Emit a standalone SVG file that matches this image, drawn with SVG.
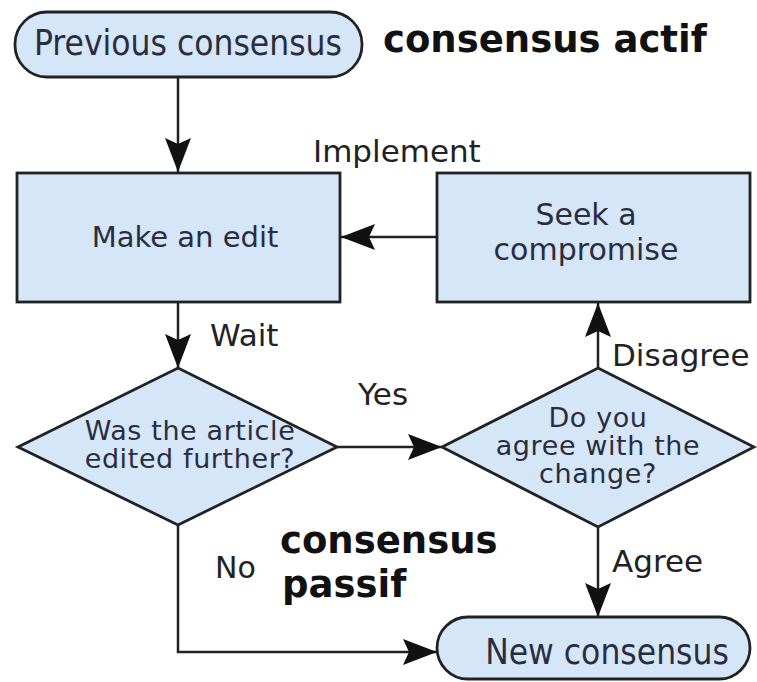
<svg xmlns="http://www.w3.org/2000/svg" width="757" height="682" viewBox="0 0 757 682">
<style>
.node{fill:#d5e6f9;stroke:#222;stroke-width:2.8}
.nt{font-family:"DejaVu Sans",sans-serif;font-size:29px;fill:#2b2d3e;text-anchor:middle}
.cd{font-family:"DejaVu Sans Condensed","DejaVu Sans",sans-serif;font-stretch:condensed}
.lb{font-family:"DejaVu Sans",sans-serif;font-size:31px;fill:#222}
.big{font-family:"DejaVu Sans",sans-serif;font-size:37px;font-weight:bold;fill:#111}
.cn{fill:none;stroke:#222;stroke-width:2.5}
</style>
<defs>
<marker id="ah" markerUnits="userSpaceOnUse" markerWidth="34" markerHeight="26" refX="34" refY="13" orient="auto">
<path d="M0,0 L34,13 L0,26 L6,13 z" fill="#111"/>
</marker>
</defs>
<rect width="757" height="682" fill="#fff"/>
<g id="connectors">
<line class="cn" x1="178" y1="77" x2="178" y2="172" marker-end="url(#ah)"/>
<line class="cn" x1="178" y1="302" x2="178" y2="368" marker-end="url(#ah)"/>
<line class="cn" x1="437" y1="237" x2="341" y2="237" marker-end="url(#ah)"/>
<line class="cn" x1="337" y1="447" x2="442" y2="447" marker-end="url(#ah)"/>
<line class="cn" x1="598" y1="368" x2="598" y2="303" marker-end="url(#ah)"/>
<line class="cn" x1="598" y1="527" x2="598" y2="617" marker-end="url(#ah)"/>
<polyline class="cn" points="178,525 178,652 437,652" marker-end="url(#ah)"/>
<text class="lb" x="313" y="162">Implement</text>
<text class="lb" x="210" y="346">Wait</text>
<text class="lb" x="358" y="405">Yes</text>
<text class="lb" x="612" y="366">Disagree</text>
<text class="lb" x="612" y="572">Agree</text>
<text class="lb" x="215" y="578" style="font-size:30px">No</text>
</g>
<g id="previous">
<rect class="node" x="15" y="12" width="347" height="65" rx="32"/>
<text class="nt cd" x="188" y="55" style="font-size:35px">Previous consensus</text>
</g>
<g id="edit">
<rect class="node" x="17" y="173" width="323" height="129"/>
<text class="nt" x="185" y="247">Make an edit</text>
</g>
<g id="compromise">
<rect class="node" x="437" y="173" width="313" height="129"/>
<text class="nt" x="586" y="225" style="font-size:30px">Seek a</text>
<text class="nt" x="586" y="260" style="font-size:30px">compromise</text>
</g>
<g id="edited">
<polygon class="node" points="178,368 337,447 178,525 18,447"/>
<text class="nt" x="190" y="440" style="font-size:27px;letter-spacing:0.6px">Was the article</text>
<text class="nt" x="190" y="468" style="font-size:27px;letter-spacing:0.6px">edited further?</text>
</g>
<g id="agree">
<polygon class="node" points="598,368 754,447 598,527 442,447"/>
<text class="nt" x="598" y="427" style="font-size:27px;letter-spacing:0.6px">Do you</text>
<text class="nt" x="598" y="455" style="font-size:27px;letter-spacing:0.6px">agree with the</text>
<text class="nt" x="598" y="483" style="font-size:27px;letter-spacing:0.6px">change?</text>
</g>
<g id="newc">
<rect class="node" x="437" y="617" width="313" height="62" rx="31"/>
<text class="nt cd" x="607" y="664" style="font-size:35px">New consensus</text>
</g>
<g id="annotations">
<text class="big" x="383" y="52">consensus actif</text>
<text class="big" x="280" y="553">consensus</text>
<text class="big" x="282" y="597">passif</text>
</g>
</svg>
